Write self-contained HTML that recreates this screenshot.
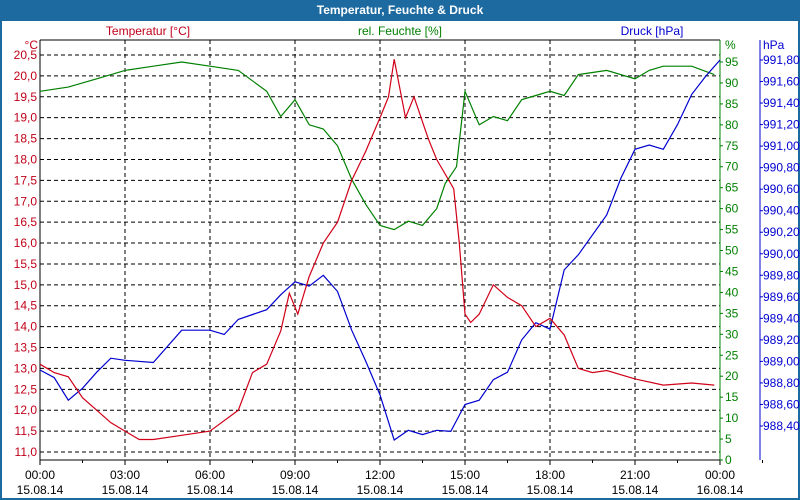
<!DOCTYPE html>
<html><head><meta charset="utf-8"><style>
body{margin:0;background:#fff;font-family:"Liberation Sans","DejaVu Sans",sans-serif}
#c{width:800px;height:500px;position:relative;overflow:hidden;background:#fff}
</style></head><body>
<div id="c">
<svg id="s" width="800" height="500" xmlns="http://www.w3.org/2000/svg" font-family="Liberation Sans, DejaVu Sans, sans-serif" font-size="12">
<rect x="0" y="0" width="800" height="500" fill="#1c6aa0"/>
<rect x="2" y="21" width="796" height="477" fill="#fff"/>
<text x="400" y="14" text-anchor="middle" fill="#fff" font-weight="bold" font-size="12">Temperatur, Feuchte &amp; Druck</text>
<g id="g"></g>
</svg>
</div>
<script>
const timeTicks=["00:00","03:00","06:00","09:00","12:00","15:00","18:00","21:00","00:00"];
const dateTicks=["15.08.14","15.08.14","15.08.14","15.08.14","15.08.14","15.08.14","15.08.14","15.08.14","16.08.14"];
const tempHours=[0,0.5,1,1.5,2,2.5,3,3.5,4,5,6,7,7.5,8,8.5,8.8,9.1,9.5,10,10.5,11,11.5,12,12.3,12.5,12.9,13.2,13.7,14,14.6,14.8,15,15.2,15.5,16,16.5,17,17.5,18,18.5,19,19.5,20,21,22,23,23.8];
const tempValues=[13.1,12.9,12.8,12.3,12.0,11.7,11.5,11.3,11.3,11.4,11.5,12.0,12.9,13.1,13.9,14.8,14.3,15.2,16.0,16.5,17.5,18.2,19.0,19.5,20.4,19.0,19.5,18.5,18.0,17.3,16.0,14.3,14.1,14.3,15.0,14.7,14.5,14.0,14.2,13.8,13.0,12.9,12.95,12.75,12.6,12.65,12.6];
const humHours=[0,1,2,3,4,5,6,7,8,8.5,9,9.5,10,10.5,11,11.5,12,12.5,13,13.5,14,14.3,14.7,15,15.5,16,16.5,17,17.5,18,18.5,19,20,21,21.5,22,23,23.8];
const humValues=[88,89,91,93,94,95,94,93,88,82,86,80,79,75,67,61,56,55,57,56,60,66,70,88,80,82,81,86,87,88,87,92,93,91,93,94,94,92];
const presHours=[0,0.5,1,1.5,2,2.5,3,4,5,6,6.5,7,8,8.5,9,9.5,10,10.5,11,11.5,12,12.5,13,13.5,14,14.5,15,15.5,16,16.5,17,17.5,18,18.5,19,20,20.5,21,21.5,22,22.5,23,23.5,24];
const presValues=[988.92,988.85,988.64,988.75,988.90,989.03,989.01,988.99,989.29,989.29,989.25,989.39,989.48,989.62,989.74,989.70,989.80,989.65,989.29,989.00,988.69,988.27,988.36,988.32,988.36,988.35,988.60,988.64,988.83,988.90,989.20,989.36,989.30,989.85,989.99,990.36,990.70,990.97,991.01,990.97,991.20,991.48,991.65,991.80];
const tempTicks=[11,11.5,12,12.5,13,13.5,14,14.5,15,15.5,16,16.5,17,17.5,18,18.5,19,19.5,20,20.5];
const humTicks=[0,5,10,15,20,25,30,35,40,45,50,55,60,65,70,75,80,85,90,95];
const presTicks=[988.4,988.6,988.8,989.0,989.2,989.4,989.6,989.8,990.0,990.2,990.4,990.6,990.8,991.0,991.2,991.4,991.6,991.8];

const L=40,R=720,T=40,B=460;
const x=h=>L+h*(R-L)/24;
const yT=v=>55+(20.5-v)*(397/9.5);
const yH=v=>460-v*(398/95);
const yP=v=>60+(991.8-v)*(366/3.4);
const g=document.getElementById('g');const NS="http://www.w3.org/2000/svg";
function el(t,a,txt){const e=document.createElementNS(NS,t);for(const k in a)e.setAttribute(k,a[k]);if(txt!==undefined)e.textContent=txt;g.appendChild(e);return e;}
const fmt=(v,d)=>v.toFixed(d).replace('.',',');
tempTicks.forEach(v=>{const e=el('line',{x1:L,x2:R,y1:yT(v),y2:yT(v),stroke:'#000','stroke-dasharray':'4,3'});


const t=el('text',{x:L-3,y:yT(v)+4,'text-anchor':'end',fill:'#c00018'},fmt(v,1));

});
timeTicks.forEach((s,i)=>{const xx=x(i*3);
if(i>0&&i<8){const e=el('line',{x1:xx,x2:xx,y1:T,y2:B,stroke:'#000','stroke-dasharray':'4,3'});

}
const tk=el('line',{x1:xx,x2:xx,y1:B,y2:B+5,stroke:'#000'});


const mt=el('line',{x1:x(i*3+1.5),x2:x(i*3+1.5),y1:B,y2:B+3,stroke:'#000'});


const t1=el('text',{x:xx,y:479,'text-anchor':'middle',fill:'#000'},s);


const t2=el('text',{x:xx,y:494,'text-anchor':'middle',fill:'#000'},dateTicks[i]);

});
humTicks.forEach(v=>{const t=el('text',{x:R+5,y:yH(v)+4,fill:'#008000'},String(v));


const k=el('line',{x1:R,x2:R+3,y1:yH(v),y2:yH(v),stroke:'#008000'});

});
presTicks.forEach(v=>{const t=el('text',{x:763,y:yP(v)+4,fill:'#0000d0'},fmt(v,2));


const k=el('line',{x1:760,x2:763,y1:yP(v),y2:yP(v),stroke:'#0000d0'});

});
[[L,T,L,B,'#000','temp-axis'],[L,T,R,T,'#000','top-frame'],[L,B,R,B,'#000','x-axis'],[R,T,R,B,'#008000','humidity-axis'],[760,T,760,B,'#0000d0','pressure-axis']].forEach(a=>{const e=el('line',{x1:a[0],y1:a[1],x2:a[2],y2:a[3],stroke:a[4]});

});
function series(hs,vs,yf,col,name){const d=hs.map((h,i)=>(i?'L':'M')+x(h).toFixed(1)+','+yf(vs[i]).toFixed(1)).join('');
const p=el('path',{d:d,fill:'none',stroke:col,'stroke-width':1.2});

}
series(humHours,humValues,yH,'#008000','humidity-line');
series(presHours,presValues,yP,'#0000d0','pressure-line');
series(tempHours,tempValues,yT,'#d00018','temperature-line');
[[148,35,'middle','#c00018','Temperatur [°C]','temp-legend'],[400,35,'middle','#008000','rel. Feuchte [%]','humidity-legend'],[652,35,'middle','#0000d0','Druck [hPa]','pressure-legend'],[38,49,'end','#c00018','°C','temp-unit'],[725,49,'start','#008000','%','humidity-unit'],[763,49,'start','#0000d0','hPa','pressure-unit']].forEach(a=>{const t=el('text',{x:a[0],y:a[1],'text-anchor':a[2],fill:a[3]},a[4]);

});
</script>
</body></html>
